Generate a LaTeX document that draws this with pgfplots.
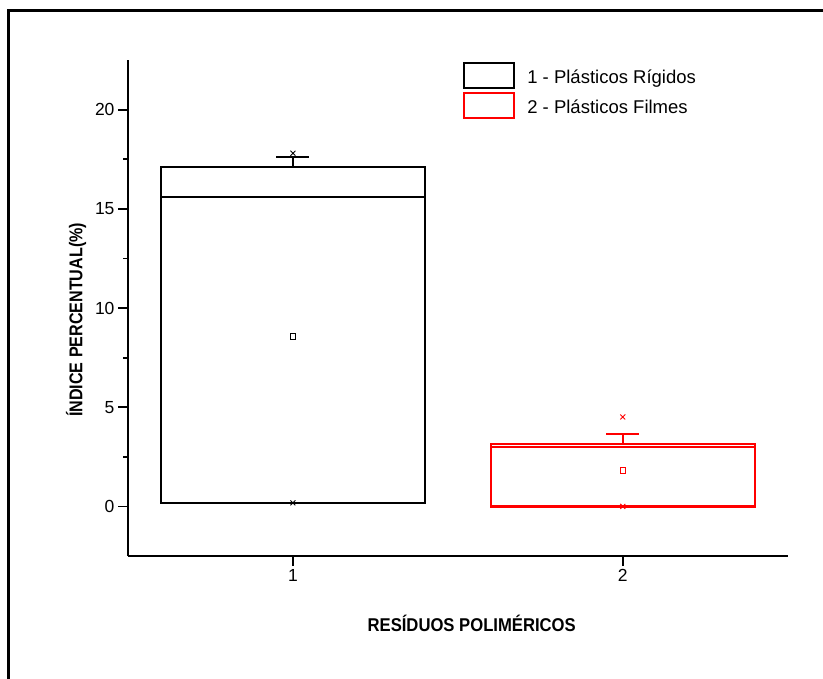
\documentclass[border=0pt]{standalone}
\usepackage{fontspec}
\setmainfont{Liberation Sans}
\usepackage{graphicx}
\usepackage{pgfplots}
\pgfplotsset{compat=1.18}
\usepgfplotslibrary{statistics}
\definecolor{boxred}{RGB}{255,0,0}

\begin{document}
\begin{tikzpicture}
\useasboundingbox (0pt,0pt) rectangle (823pt,-679pt);
\begin{axis}[
  at={(128pt,-556pt)}, anchor=south west,
  scale only axis,
  width=659.7pt, height=496pt,
  xmin=0.5, xmax=2.5,
  ymin=-2.5, ymax=22.5,
  axis lines=left,
  axis line style={-, line width=1.8pt},
  xtick={1,2},
  ytick={0,5,10,15,20},
  minor y tick num=1,
  tick align=outside,
  major tick length=10pt,
  minor tick length=5pt,
  tick style={line width=1.8pt, black},
  /pgf/number format/assume math mode=true,
  tick label style={font=\fontsize{17.5}{20}\selectfont},
  xlabel={\scalebox{0.9}[1]{\bfseries\fontsize{18.5}{21}\selectfont RESÍDUOS POLIMÉRICOS}},
  ylabel={\scalebox{0.87}[1]{\bfseries\fontsize{18.5}{21}\selectfont ÍNDICE PERCENTUAL(\%)}},
  xlabel style={at={(rel axis cs:0.521,-0.153)}, anchor=base},
  ylabel style={at={(rel axis cs:-0.069,0.476)}, anchor=base},
  boxplot/draw direction=y,
  boxplot/box extend=0.8,
  boxplot/whisker extend=0.1,
  legend style={at={(rel axis cs:0.508,0.996)}, anchor=north west,
    draw=none, fill=none, inner sep=0pt, outer sep=0pt,
    row sep=2.5pt,
    font=\fontsize{18.5}{21}\selectfont},
  legend cell align=left,
]
% Plásticos rígidos
\addplot[black, line width=2.2pt, solid,
  boxplot prepared={draw position=1,
    lower whisker=0.18, lower quartile=0.18, median=15.6,
    upper quartile=17.09, upper whisker=17.6},
  legend image code/.code={\draw[black, line width=2.2pt] (0pt,-10.5pt) rectangle (50pt,14.5pt);
    \path (60pt,0pt);}]
  coordinates {};
\addlegendentry{1 - Plásticos Rígidos}
% Plásticos filmes
\addplot[boxred, line width=2.2pt, solid,
  boxplot prepared={draw position=2,
    lower whisker=0, lower quartile=0, median=3.0,
    upper quartile=3.15, upper whisker=3.65},
  legend image code/.code={\draw[boxred, line width=2.2pt] (0pt,-10.5pt) rectangle (50pt,14.5pt);
    \path (60pt,0pt);}]
  coordinates {};
\addlegendentry{2 - Plásticos Filmes}
% mean values
\addplot[forget plot, only marks, black, mark=square, mark size=2.8pt, line width=0.9pt]
  coordinates {(1,8.57)};
\addplot[forget plot, only marks, boxred, mark=square, mark size=2.8pt, line width=0.9pt]
  coordinates {(2,1.82)};
% minimum and maximum values
\addplot[forget plot, only marks, black, mark=x, mark size=3.5pt, line width=0.9pt]
  coordinates {(1,17.8) (1,0.18)};
\addplot[forget plot, only marks, boxred, mark=x, mark size=3.5pt, line width=0.9pt]
  coordinates {(2,4.51) (2,0)};
\end{axis}
% page frame
\draw[line width=3pt] (900pt,-11pt) -- (8pt,-11pt) -- (8pt,-800pt);
\end{tikzpicture}
\end{document}
